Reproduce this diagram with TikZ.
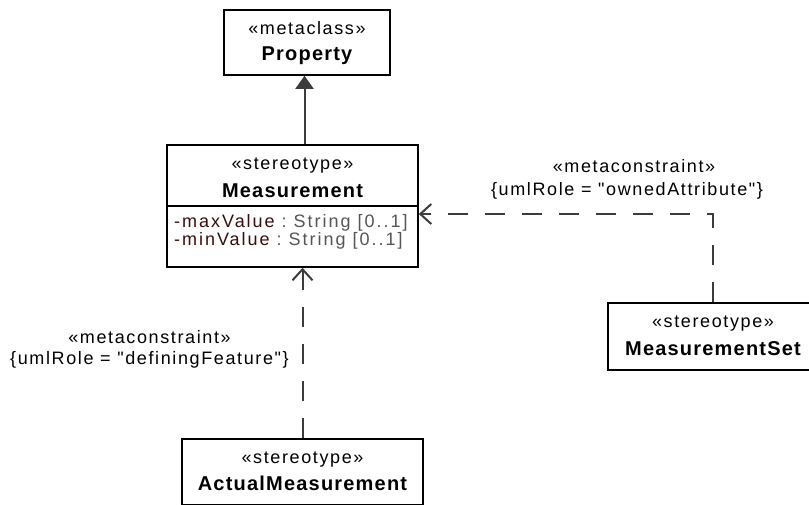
\documentclass[tikz,border=0pt]{standalone}
\usepackage{fontspec}
\setmainfont{Liberation Sans}
\newfontfamily\regf[LetterSpace=9]{Liberation Sans}
\newfontfamily\attf[LetterSpace=11]{Liberation Sans}
\newfontfamily\bldf[LetterSpace=6]{Liberation Sans}
\usetikzlibrary{arrows.meta}
\definecolor{lnc}{HTML}{3C3C3C}
\definecolor{attn}{HTML}{3A0C0C}
\definecolor{attt}{HTML}{555555}
\begin{document}
\begin{tikzpicture}[x=1pt,y=-1pt,
 umlbox/.style={draw=black,line width=1.6pt,inner sep=0pt,rectangle},
 reg/.style={anchor=base,inner sep=0pt,font=\regf\fontsize{18}{20}\selectfont},
 bld/.style={anchor=base,inner sep=0pt,font=\bldf\bfseries\fontsize{20}{22}\selectfont},
 att/.style={anchor=base west,inner sep=0pt,font=\attf\fontsize{18}{20}\selectfont},
 gen/.style={draw=lnc,line width=2pt,-{Triangle[length=13pt,width=18pt]}},
 dep/.style={draw=lnc,line width=2pt,dash pattern=on 20pt off 17pt,-{Straight Barb[length=11pt,width=20pt]}}
]
\useasboundingbox (0,0) rectangle (809,504);

% Property
\node[umlbox,minimum width=166pt,minimum height=65pt] (prop) at (307,42.5) {};
\node[reg] (propst) at (307,34) {«metaclass»};
\node[bld] (propnm) at (307,60) {Property};

% Measurement
\node[umlbox,minimum width=251pt,minimum height=122pt] (meas) at (292.5,206) {};
\draw[line width=1.6pt] (meas.west) -- (meas.east);
\node[reg] (measst) at (292.5,169) {«stereotype»};
\node[bld] (measnm) at (292.5,197) {Measurement};
\node[att] (attmax) at (174,227) {\textcolor{attn}{-maxValue}\ \textcolor{attt}{:\ String [0..1]}};
\node[att] (attmin) at (174,245) {\textcolor{attn}{-minValue}\ \textcolor{attt}{:\ String [0..1]}};

% ActualMeasurement
\node[umlbox,minimum width=241pt,minimum height=66pt] (am) at (302.5,472) {};
\node[reg] (amst) at (302.5,463) {«stereotype»};
\node[bld] (amnm) at (302.5,490) {ActualMeasurement};

% MeasurementSet
\node[umlbox,minimum width=210pt,minimum height=67pt] (ms) at (713,336.5) {};
\node[reg] (msst) at (713,327) {«stereotype»};
\node[bld] (msnm) at (713,355) {MeasurementSet};

% labels
\node[reg] (l1a) at (149.5,343) {«metaconstraint»};
\node[reg] (l1b) at (149.5,364) {\{umlRole = "definingFeature"\}};
\node[reg] (l2a) at (634,172) {«metaconstraint»};
\node[reg] (l2b) at (627,195) {\{umlRole = "ownedAttribute"\}};

% connectors
\coordinate (gtop) at ([xshift=-2.5pt]prop.south);
\draw[gen] (gtop |- meas.north) -- (gtop);
\draw[dep] (am.north) -- (am.north |- meas.south);
\draw[dep] (ms.north) |- ([yshift=-8pt]meas.east);
\end{tikzpicture}
\end{document}
